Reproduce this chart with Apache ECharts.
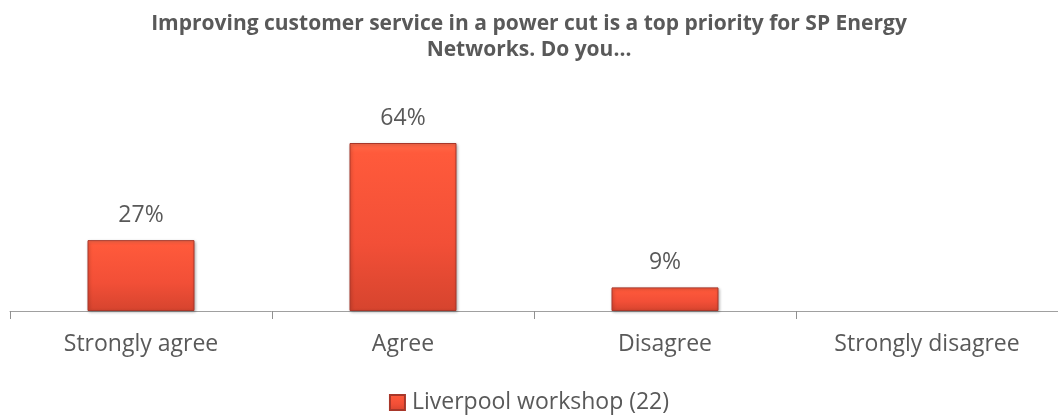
<!DOCTYPE html>
<html>
<head>
<meta charset="utf-8">
<script src="https://cdn.jsdelivr.net/npm/echarts@6/dist/echarts.min.js"></script>
<style>
    html, body { margin: 0; padding: 0; background: #fff; }
    #chart { width: 1058px; height: 416px; }
</style>
</head>
<body>
<div id="chart"></div>
<script>
// 数据
const categories = ['Strongly agree', 'Agree', 'Disagree', 'Strongly disagree'];
const seriesName = 'Liverpool workshop (22)';
const values = [27, 64, 9, 0];
const titleText = 'Improving customer service in a power cut is a top priority for SP Energy\nNetworks. Do you...';

const textColor = '#595959';
const fontName = '"Open Sans", sans-serif';

// 柱子渐变
function barColor() {
    return new echarts.graphic.LinearGradient(0, 0, 0, 1, [
        { offset: 0, color: '#FF6A4A' },
        { offset: 0.06, color: '#FF5A3B' },
        { offset: 0.6, color: '#F24F37' },
        { offset: 1, color: '#D6442E' }
    ]);
}

function initChart() {
    const chart = echarts.init(document.getElementById('chart'));
    const option = {
        animation: false,
        title: {
            text: titleText,
            left: 'center',
            top: 6,
            textStyle: {
                color: textColor,
                fontFamily: fontName,
                fontWeight: 'bold',
                fontSize: 21,
                lineHeight: 26
            }
        },
        legend: {
            top: 386,
            left: 'center',
            itemWidth: 15,
            itemHeight: 15,
            itemGap: 6,
            textStyle: {
                color: textColor,
                fontFamily: fontName,
                fontSize: 23,
                padding: [0, 0, 0, 2]
            },
            data: [{ name: seriesName, icon: 'rect' }]
        },
        grid: {
            top: 48.5,
            left: 10,
            right: 0,
            bottom: 105
        },
        xAxis: {
            type: 'category',
            data: categories,
            axisLine: {
                lineStyle: { color: '#A0A0A0', width: 1 }
            },
            axisTick: {
                show: true,
                length: 8,
                lineStyle: { color: '#909090', width: 1 }
            },
            axisLabel: {
                color: textColor,
                fontFamily: fontName,
                fontSize: 23,
                margin: 22
            }
        },
        yAxis: {
            type: 'value',
            min: 0,
            max: 100,
            show: false,
            splitLine: { show: false }
        },
        series: [{
            name: seriesName,
            type: 'bar',
            // 0 的柱子不画
            data: values.map(v => (v ? v : null)),
            barWidth: 107,
            itemStyle: {
                color: barColor(),
                borderColor: '#A8372A',
                borderWidth: 1,
                shadowColor: 'rgba(0, 0, 0, 0.3)',
                shadowBlur: 3,
                shadowOffsetX: 1,
                shadowOffsetY: 1
            },
            label: {
                show: true,
                position: 'top',
                distance: 13,
                color: textColor,
                fontFamily: fontName,
                fontSize: 23,
                formatter: p => (p.value ? p.value + '%' : '')
            }
        }]
    };
    chart.setOption(option);
}

document.addEventListener('DOMContentLoaded', initChart);
</script>
</body>
</html>
